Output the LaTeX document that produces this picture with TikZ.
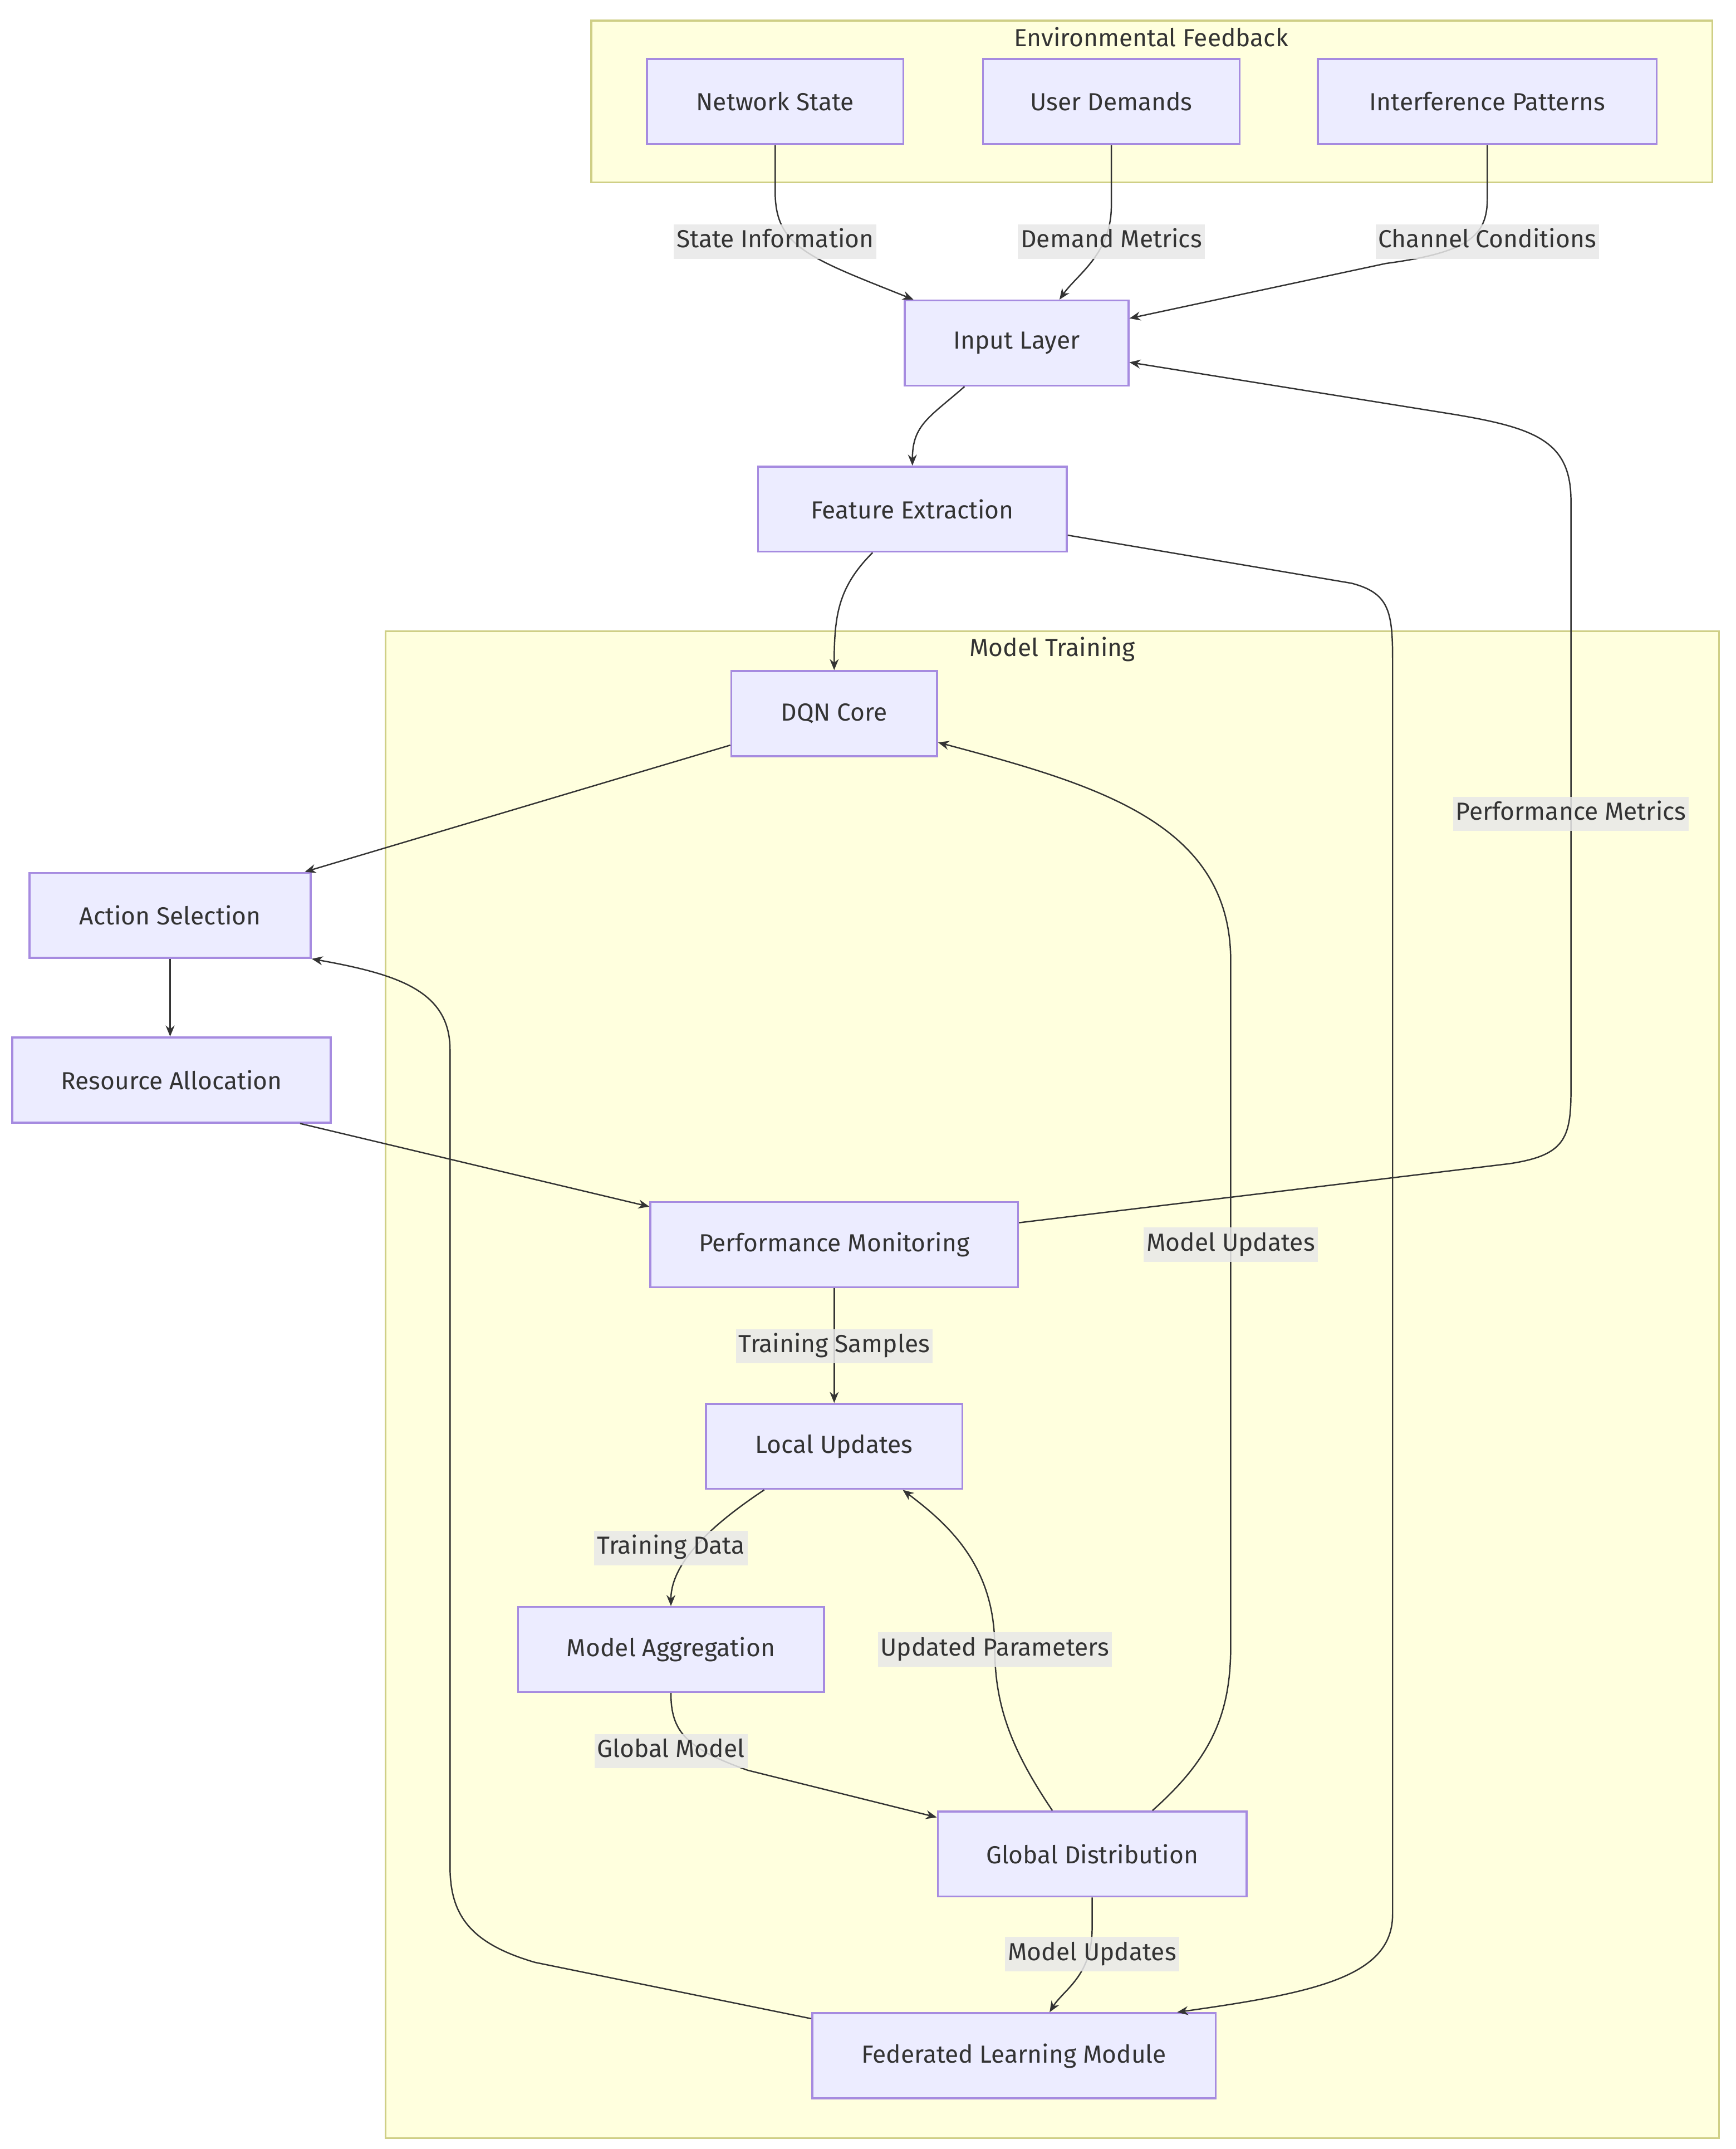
\documentclass[tikz,border=0pt]{standalone}
\usepackage{fontspec}
\setmainfont{Fira Sans}
\usetikzlibrary{arrows.meta}

\definecolor{nodefill}{HTML}{ECECFF}
\definecolor{nodeline}{HTML}{A68BE0}
\definecolor{clusterfill}{HTML}{FFFFDE}
\definecolor{clusterline}{HTML}{CFCF86}
\definecolor{edgecol}{HTML}{333333}
\definecolor{labelfill}{HTML}{E8E8E8}
\definecolor{textcol}{HTML}{333333}

\tikzset{
  box/.style={draw=nodeline, fill=nodefill, line width=1.4pt, minimum height=62pt,
    text=textcol, font=\fontsize{18}{21}\selectfont},
  cluster/.style={draw=clusterline, fill=clusterfill, line width=1.3pt},
  ctitle/.style={text=textcol, font=\fontsize{18}{21}\selectfont, inner sep=0pt},
  flow/.style={draw=edgecol, line width=1pt, -{Stealth[length=8pt,width=6.5pt]}},
  elabel/.style={fill=labelfill, fill opacity=0.85, text opacity=1, text=textcol,
    font=\fontsize{18}{21}\selectfont, inner xsep=2pt, inner ysep=4pt,
    text height=13pt, text depth=4pt}
}

\begin{document}
\begin{tikzpicture}[x=1pt, y=-1pt]
  \useasboundingbox[fill=white] (0,0) rectangle (1265,1566);

  % Clusters
  \draw[cluster] (431,15) rectangle (1248,133);
  \node[ctitle] (envtitle) at (839,27) {Environmental Feedback};
  \draw[cluster] (281,460) rectangle (1253,1558);
  \node[ctitle] (traintitle) at (767,473) {Model Training};

  % Nodes
  \node[box, minimum width=187pt] (ns) at (565,74) {Network State};
  \node[box, minimum width=187pt] (ud) at (810,74) {User Demands};
  \node[box, minimum width=247pt] (ip) at (1084,74) {Interference Patterns};
  \node[box, minimum width=163pt] (in) at (741,250) {Input Layer};
  \node[box, minimum width=225pt] (fe) at (665,371) {Feature Extraction};
  \node[box, minimum width=150pt] (dqn) at (608,520) {DQN Core};
  \node[box, minimum width=205pt] (as) at (124,667) {Action Selection};
  \node[box, minimum width=232pt] (ra) at (125,787) {Resource Allocation};
  \node[box, minimum width=268pt] (pm) at (608,907) {Performance Monitoring};
  \node[box, minimum width=187pt] (lu) at (608,1054) {Local Updates};
  \node[box, minimum width=223pt] (ma) at (489,1202) {Model Aggregation};
  \node[box, minimum width=225pt] (gd) at (796,1351) {Global Distribution};
  \node[box, minimum width=294pt] (flm) at (739,1498) {Federated Learning Module};

  % Connectors
  \draw[flow] (ns.south) -- (565,140) .. controls (565,180) and (590,188) .. ([xshift=7pt]in.north west);
  \draw[flow] (ud.south) -- (810,150) .. controls (810,185) and (785,200) .. ([xshift=-51pt]in.north east);
  \draw[flow] (ip.south) -- (1084,145) .. controls (1084,172) and (1070,184) .. (1010,192) -- ([yshift=18pt]in.east);
  \draw[flow] ([xshift=-38pt]in.south) .. controls +(-25,22) and +(0,-30) .. (fe.north);
  \draw[flow] ([xshift=-29pt]fe.south) .. controls +(-25,25) and +(0,-40) .. (dqn.north);
  \draw[flow] ([yshift=-19pt]fe.east) -- (985,425) .. controls (1012,432) and (1015,445) .. (1015,480)
    -- (1015,1395) .. controls (1015,1440) and (960,1452) .. ([xshift=119pt]flm.north);
  \draw[flow] ([yshift=-23pt]dqn.west) -- ([xshift=-5pt]as.north east);
  \draw[flow] (as.south) -- ([xshift=-1pt]ra.north);
  \draw[flow] ([xshift=-23pt]ra.south east) -- ([yshift=-4pt]pm.north west);
  \draw[flow] ([yshift=16pt]pm.east) -- (1100,848) .. controls (1140,842) and (1145,830) .. (1145,795)
    -- (1145,365) .. controls (1145,322) and (1120,312) .. (1060,302) -- ([yshift=-14pt]in.east);
  \draw[flow] (pm.south) -- (lu.north);
  \draw[flow] ([xshift=-51pt]lu.south) .. controls +(-30,20) and +(0,-35) .. (ma.north);
  \draw[flow] (ma.south) .. controls (489,1262) and (500,1274) .. (545,1290) -- ([yshift=-5pt]gd.north west);
  \draw[flow] ([xshift=-29pt]gd.north) .. controls (735,1272) and (725,1240) .. (725,1200)
    .. controls (725,1140) and (690,1110) .. ([xshift=50pt]lu.south);
  \draw[flow] ([xshift=44pt]gd.north) .. controls (882,1282) and (897,1250) .. (897,1200)
    -- (897,700) .. controls (897,600) and (800,572) .. ([yshift=-21pt]dqn.east);
  \draw[flow] (gd.south) -- (796,1405) .. controls (796,1440) and (775,1450) .. ([xshift=26pt]flm.north);
  \draw[flow] ([yshift=27pt]flm.west) -- (390,1430) .. controls (342,1416) and (328,1395) .. (328,1360)
    -- (328,765) .. controls (328,722) and (290,710) .. (as.south east);

  % Edge labels
  \node[elabel] (lstate) at (565,176) {State Information};
  \node[elabel] (ldemand) at (810,176) {Demand Metrics};
  \node[elabel] (lchannel) at (1084,176) {Channel Conditions};
  \node[elabel] (lperf) at (1145,593) {Performance Metrics};
  \node[elabel] (lmodel) at (897,907) {Model Updates};
  \node[elabel] (lsamples) at (608,981) {Training Samples};
  \node[elabel] (ldata) at (489,1128) {Training Data};
  \node[elabel] (lparams) at (725,1202) {Updated Parameters};
  \node[elabel] (lglobal) at (489,1276) {Global Model};
  \node[elabel] (lmodeltwo) at (796,1424) {Model Updates};
\end{tikzpicture}
\end{document}
